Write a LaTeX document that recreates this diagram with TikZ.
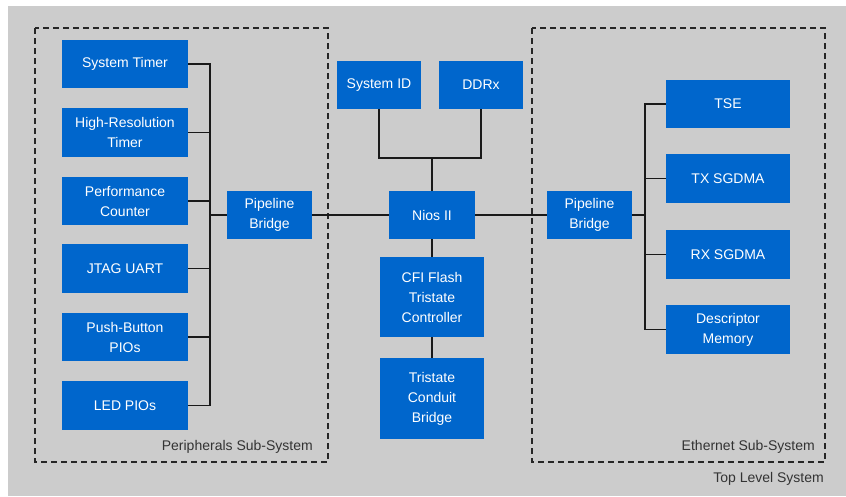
\documentclass[tikz,border=0pt]{standalone}
\usepackage{fontspec}
\setmainfont{Liberation Sans}
\definecolor{bgray}{HTML}{CCCCCC}
\definecolor{blk}{HTML}{0066CC}
\definecolor{lbl}{HTML}{333333}
\begin{document}
\begin{tikzpicture}[x=1pt,y=-1pt,
  blockbox/.style={fill=blk,draw=none,text=white,align=center,inner sep=0pt,
    font=\fontsize{14}{20}\selectfont},
  conn/.style={draw=black!90,line width=1.2pt},
  subsys/.style={draw=black!85,line width=1.2pt,dash pattern=on 6pt off 4pt},
  caption/.style={text=lbl,font=\fontsize{14}{17}\selectfont,inner sep=0pt,anchor=east}]
\useasboundingbox (0,0) rectangle (846,496);
\fill[white] (0,0) rectangle (846,496);
\fill[bgray] (8,6) rectangle (846,496);
% subsystem boxes
\draw[subsys] (35,28) rectangle (328,462);
\draw[subsys] (532,28) rectangle (825,462);
% left blocks
\node[blockbox,minimum width=126pt,minimum height=48pt] (systimer) at (125,64) {System Timer};
\node[blockbox,minimum width=126pt,minimum height=49pt] (hires) at (125,132.5) {High-Resolution\\Timer};
\node[blockbox,minimum width=126pt,minimum height=48pt] (perf) at (125,201) {Performance\\Counter};
\node[blockbox,minimum width=126pt,minimum height=49pt] (jtag) at (125,268.5) {JTAG UART};
\node[blockbox,minimum width=126pt,minimum height=48pt] (push) at (125,337) {Push-Button\\PIOs};
\node[blockbox,minimum width=126pt,minimum height=49pt] (led) at (125,405.5) {LED PIOs};
\node[blockbox,minimum width=85pt,minimum height=48pt] (pbl) at (269.5,215) {Pipeline\\Bridge};
% center blocks
\node[blockbox,minimum width=84pt,minimum height=48pt] (sysid) at (379,85) {System ID};
\node[blockbox,minimum width=84pt,minimum height=48pt] (ddr) at (481,85) {DDRx};
\node[blockbox,minimum width=86pt,minimum height=48pt] (nios) at (432,215) {Nios II};
\node[blockbox,minimum width=104pt,minimum height=80pt] (cfi) at (432,297) {CFI Flash\\Tristate\\Controller};
\node[blockbox,minimum width=104pt,minimum height=81pt] (tri) at (432,398.5) {Tristate\\Conduit\\Bridge};
% right blocks
\node[blockbox,minimum width=85pt,minimum height=48pt] (pbr) at (589.5,215) {Pipeline\\Bridge};
\node[blockbox,minimum width=124pt,minimum height=48pt] (tse) at (728,104) {TSE};
\node[blockbox,minimum width=124pt,minimum height=49pt] (tx) at (728,178.5) {TX SGDMA};
\node[blockbox,minimum width=124pt,minimum height=49pt] (rx) at (728,254.5) {RX SGDMA};
\node[blockbox,minimum width=124pt,minimum height=49pt] (desc) at (728,329.5) {Descriptor\\Memory};
% bus coordinates
\coordinate (lbus) at (210,0);
\coordinate (rbus) at (645,0);
\coordinate (j) at (432,158);
% left bus
\draw[conn] (systimer.east) -| (led.east -| lbus) -- (led.east);
\foreach \n in {hires,perf,jtag,push}{
  \draw[conn] (\n.east) -- (\n.east -| lbus);
}
\draw[conn] (pbl.west) -- (pbl.west -| lbus);
% center
\draw[conn] (pbl.east) -- (nios.west);
\draw[conn] (nios.east) -- (pbr.west);
\draw[conn] (sysid.south) |- (j) -| (ddr.south);
\draw[conn] (j) -- (nios.north);
\draw[conn] (nios.south) -- (cfi.north);
\draw[conn] (cfi.south) -- (tri.north);
% right bus
\draw[conn] (tse.west) -| (desc.west -| rbus) -- (desc.west);
\foreach \n in {tx,rx}{
  \draw[conn] (\n.west) -- (\n.west -| rbus);
}
\draw[conn] (pbr.east) -- (pbr.east -| rbus);
% captions
\node[caption] (capl) at (313,447) {Peripherals Sub-System};
\node[caption] (capr) at (815,447) {Ethernet Sub-System};
\node[caption] (capt) at (824,479) {Top Level System};
\end{tikzpicture}
\end{document}
